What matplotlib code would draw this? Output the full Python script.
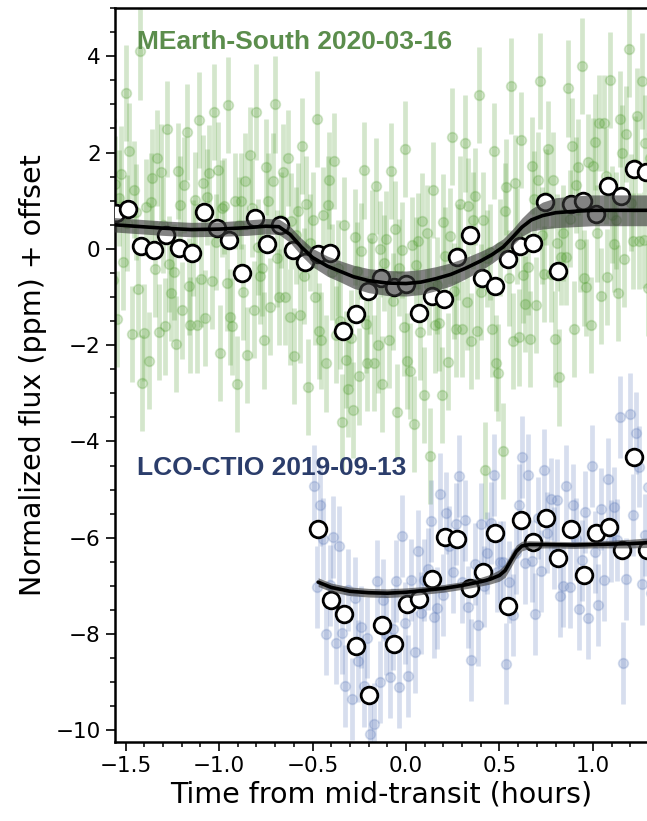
import matplotlib
matplotlib.use("Agg")
import matplotlib.pyplot as plt
from matplotlib.ticker import MultipleLocator

# ---------------- MEarth-South 2020-03-16 (offset +0) ----------------
mearth_t = [
    -1.579, -1.568, -1.559, -1.547, -1.536, -1.525,
    -1.511, -1.500, -1.491, -1.479, -1.468, -1.457,
    -1.444, -1.433, -1.424, -1.412, -1.401, -1.390,
    -1.376, -1.365, -1.356, -1.344, -1.333, -1.322,
    -1.309, -1.298, -1.289, -1.277, -1.266, -1.255,
    -1.241, -1.230, -1.221, -1.209, -1.198, -1.187,
    -1.173, -1.162, -1.153, -1.141, -1.130, -1.119,
    -1.106, -1.095, -1.086, -1.074, -1.063, -1.052,
    -1.038, -1.027, -1.018, -1.006, -0.995, -0.984,
    -0.971, -0.960, -0.951, -0.939, -0.928, -0.917,
    -0.903, -0.892, -0.883, -0.871, -0.860, -0.849,
    -0.835, -0.824, -0.815, -0.803, -0.792, -0.781,
    -0.768, -0.757, -0.748, -0.736, -0.725, -0.714,
    -0.700, -0.689, -0.680, -0.668, -0.657, -0.646,
    -0.633, -0.622, -0.613, -0.601, -0.590, -0.579,
    -0.565, -0.554, -0.545, -0.533, -0.522, -0.511,
    -0.497, -0.486, -0.477, -0.465, -0.454, -0.443,
    -0.430, -0.419, -0.410, -0.398, -0.387, -0.376,
    -0.362, -0.351, -0.342, -0.330, -0.319, -0.308,
    -0.295, -0.284, -0.275, -0.263, -0.252, -0.241,
    -0.227, -0.216, -0.207, -0.195, -0.184, -0.173,
    -0.159, -0.148, -0.139, -0.127, -0.116, -0.105,
    -0.092, -0.081, -0.072, -0.060, -0.049, -0.038,
    -0.024, -0.013, -0.004, 0.008, 0.019, 0.030,
    0.043, 0.054, 0.063, 0.075, 0.086, 0.097,
    0.111, 0.122, 0.131, 0.143, 0.154, 0.165,
    0.179, 0.190, 0.199, 0.211, 0.222, 0.233,
    0.246, 0.257, 0.266, 0.278, 0.289, 0.300,
    0.314, 0.325, 0.334, 0.346, 0.357, 0.368,
    0.381, 0.392, 0.401, 0.413, 0.424, 0.435,
    0.449, 0.460, 0.469, 0.481, 0.492, 0.503,
    0.517, 0.528, 0.537, 0.549, 0.560, 0.571,
    0.584, 0.595, 0.604, 0.616, 0.627, 0.638,
    0.652, 0.663, 0.672, 0.684, 0.695, 0.706,
    0.719, 0.730, 0.739, 0.751, 0.762, 0.773,
    0.787, 0.798, 0.807, 0.819, 0.830, 0.841,
    0.855, 0.866, 0.875, 0.887, 0.898, 0.909,
    0.922, 0.933, 0.942, 0.954, 0.965, 0.976,
    0.990, 1.001, 1.010, 1.022, 1.033, 1.044,
    1.057, 1.068, 1.077, 1.089, 1.100, 1.111,
    1.125, 1.136, 1.145, 1.157, 1.168, 1.179,
    1.193, 1.204, 1.213, 1.225, 1.236, 1.247,
    1.260, 1.271, 1.280, 1.292, 1.303, 1.314,
]
mearth_flux = [
    2.65, -0.65, 1.35, -1.45, 1.05, 1.55,
    -0.27, 3.23, 0.53, 2.03, -1.77, 1.23,
    0.76, -0.84, 4.10, -2.78, -1.74, 0.86,
    -2.32, 0.98, 1.48, -0.42, 1.88, -1.72,
    1.59, 0.49, -1.61, 2.49, -0.31, -0.91,
    -0.48, -1.98, 1.62, 0.92, -1.28, 1.32,
    2.42, -0.78, -1.58, 0.02, 1.02, -1.58,
    2.67, -0.63, 1.37, -1.43, 1.07, 1.57,
    -0.66, 2.84, 0.14, 1.64, -2.16, 0.84,
    0.89, -0.71, 2.99, -1.41, -1.61, 0.99,
    -2.80, 0.50, 1.00, -0.90, 1.40, -2.20,
    1.94, 0.84, -1.26, 2.84, 0.04, -0.56,
    -0.40, -1.90, 1.70, 1.00, -1.20, 1.40,
    3.00, -0.20, -1.00, 0.60, 1.60, -1.00,
    1.88, -1.42, 0.58, -2.22, 0.28, 0.78,
    -1.37, 2.13, -0.57, 0.93, -2.87, 0.13,
    0.60, -1.00, 2.70, -1.70, -1.90, 0.70,
    -2.38, 0.92, 1.42, -0.48, 1.82, -1.78,
    -0.40, -1.50, -3.60, 0.50, -2.30, -2.90,
    -1.85, -3.35, 0.25, -0.45, -2.65, -0.05,
    1.63, -1.57, -2.37, -0.77, 0.23, -2.37,
    1.30, -2.00, 0.00, -2.80, -0.30, 0.20,
    -1.89, 1.61, -1.09, 0.41, -3.39, -0.39,
    -0.03, -1.63, 2.07, -2.33, -2.53, 0.07,
    -3.63, -0.33, 0.17, -1.73, 0.57, -3.03,
    0.32, -0.78, -4.30, 1.22, -1.58, -0.76,
    -1.54, -3.04, 0.56, -0.14, -2.34, 0.26,
    2.33, -0.87, -1.67, -0.07, 0.93, -1.67,
    2.19, -1.11, 0.89, -1.91, 0.59, 1.09,
    -1.70, 3.20, -0.90, 0.60, -4.60, -0.20,
    -0.07, -1.67, 2.03, -2.37, -2.57, 0.03,
    -4.20, 0.79, 1.29, -0.61, 3.38, -1.91,
    1.36, 0.26, -1.84, 2.26, -0.54, -1.14,
    -0.37, -1.87, 1.73, 1.03, -1.17, 1.43,
    3.48, 0.28, -0.52, 1.08, 2.08, -0.52,
    1.43, -1.87, 0.13, -2.67, -0.17, 0.33,
    -0.17, 3.33, 0.63, 2.13, -1.67, 1.33,
    1.70, 0.10, 3.80, -0.60, -0.80, 1.80,
    -1.58, 1.72, 2.22, 0.32, 2.62, -0.98,
    2.61, 1.51, -0.59, 3.51, 0.71, 0.11,
    0.59, -0.91, 2.69, 1.99, -0.21, 2.39,
    4.16, 0.96, 0.16, 1.76, 2.76, 0.16,
    3.49, 0.19, 2.19, -0.81, 1.89, 2.39,
]
mearth_err = 1.0

mearth_bin_t = [
    -1.553, -1.485, -1.418, -1.350, -1.283, -1.215, -1.147, -1.080,
    -1.012, -0.945, -0.877, -0.809, -0.742, -0.674, -0.607, -0.539,
    -0.471, -0.404, -0.336, -0.269, -0.201, -0.133, -0.066, 0.002,
    0.069, 0.137, 0.205, 0.272, 0.340, 0.407, 0.475, 0.543,
    0.610, 0.678, 0.745, 0.813, 0.881, 0.948, 1.016, 1.083,
    1.151, 1.219, 1.286,
]
mearth_bin_flux = [
    0.75, 0.83, 0.06, -0.02, 0.29, 0.02, -0.08, 0.77,
    0.44, 0.19, -0.50, 0.64, 0.10, 0.50, -0.02, -0.27,
    -0.10, -0.08, -1.70, -1.35, -0.87, -0.60, -0.79, -0.73,
    -1.33, -0.98, -1.04, -0.17, 0.29, -0.60, -0.77, -0.21,
    0.06, 0.13, 0.98, -0.47, 0.93, 1.00, 0.72, 1.31,
    1.09, 1.66, 1.59,
]

mearth_model_t = [
    -1.56, -1.45, -1.30, -1.15, -1.00, -0.85, -0.75, -0.68, -0.62,
    -0.56, -0.50, -0.42, -0.35, -0.28, -0.20, -0.10, 0.00, 0.08,
    0.16, 0.24, 0.32, 0.40, 0.46, 0.52, 0.57, 0.62, 0.67,
    0.73, 0.80, 0.90, 1.00, 1.15, 1.30,
]
mearth_model = [
    0.50, 0.47, 0.43, 0.40, 0.41, 0.44, 0.47, 0.46, 0.30,
    0.04, -0.18, -0.36, -0.47, -0.58, -0.66, -0.71, -0.72, -0.69,
    -0.62, -0.53, -0.40, -0.25, -0.12, 0.04, 0.24, 0.45, 0.60,
    0.69, 0.75, 0.78, 0.80, 0.80, 0.80,
]
mearth_band = [
    0.15, 0.15, 0.15, 0.15, 0.15, 0.16, 0.16, 0.16, 0.17,
    0.18, 0.19, 0.21, 0.22, 0.24, 0.25, 0.26, 0.26, 0.26,
    0.25, 0.24, 0.22, 0.20, 0.18, 0.17, 0.17, 0.19, 0.23,
    0.28, 0.31, 0.32, 0.32, 0.32, 0.32,
]

# ---------------- LCO-CTIO 2019-09-13 (offset -6) ----------------
lco_t = [
    -0.494, -0.477, -0.461, -0.444,
    -0.426, -0.409, -0.393, -0.376,
    -0.359, -0.342, -0.326, -0.309,
    -0.291, -0.274, -0.258, -0.241,
    -0.223, -0.206, -0.190, -0.173,
    -0.156, -0.139, -0.123, -0.106,
    -0.088, -0.071, -0.055, -0.038,
    -0.021, -0.004, 0.012, 0.029,
    0.047, 0.064, 0.080, 0.097,
    0.115, 0.132, 0.148, 0.165,
    0.182, 0.199, 0.215, 0.232,
    0.250, 0.267, 0.283, 0.300,
    0.317, 0.334, 0.350, 0.367,
    0.385, 0.402, 0.418, 0.435,
    0.453, 0.470, 0.486, 0.503,
    0.520, 0.537, 0.553, 0.570,
    0.588, 0.605, 0.621, 0.638,
    0.655, 0.672, 0.688, 0.705,
    0.723, 0.740, 0.756, 0.773,
    0.790, 0.807, 0.823, 0.840,
    0.858, 0.875, 0.891, 0.908,
    0.926, 0.943, 0.959, 0.976,
    0.993, 1.010, 1.026, 1.043,
    1.061, 1.078, 1.094, 1.111,
    1.128, 1.145, 1.161, 1.178,
    1.196, 1.213, 1.229, 1.246,
    1.263, 1.280, 1.296, 1.313,
]
lco_flux = [
    -4.92, -7.02, -5.32, -6.02,
    -7.99, -6.99, -5.99, -8.19,
    -6.18, -7.98, -9.08, -7.08,
    -9.35, -7.25, -8.55, -7.85,
    -9.07, -8.07, -10.07, -9.87,
    -6.90, -9.00, -7.30, -8.00,
    -8.90, -7.90, -6.90, -9.10,
    -5.97, -7.77, -8.87, -6.87,
    -8.37, -6.27, -7.57, -6.87,
    -6.65, -5.65, -7.65, -7.45,
    -5.08, -7.18, -5.48, -6.18,
    -6.72, -5.72, -4.72, -6.92,
    -5.64, -7.44, -8.54, -6.54,
    -7.81, -5.71, -7.01, -6.31,
    -5.70, -4.70, -6.70, -6.50,
    -6.51, -8.61, -6.91, -7.61,
    -6.32, -5.32, -4.32, -6.52,
    -4.69, -6.49, -7.59, -5.59,
    -6.69, -4.59, -5.89, -5.19,
    -6.21, -5.21, -7.21, -7.01,
    -4.92, -7.02, -5.32, -6.02,
    -7.47, -6.47, -5.47, -7.67,
    -4.50, -6.30, -7.40, -5.40,
    -6.87, -4.77, -6.07, -5.37,
    -6.05, -3.50, -8.60, -6.85,
    -3.42, -5.52, -3.82, -4.52,
    -6.95, -5.95, -4.95, -7.15,
]
lco_err = 0.85

lco_bin_t = [
    -0.469, -0.401, -0.334, -0.266, -0.198, -0.131, -0.063, 0.004,
    0.072, 0.140, 0.207, 0.275, 0.342, 0.410, 0.478, 0.545,
    0.613, 0.680, 0.748, 0.815, 0.883, 0.951, 1.018, 1.086,
    1.153, 1.221, 1.288,
]
lco_bin_flux = [
    -5.82, -7.29, -7.58, -8.25, -9.27, -7.80, -8.20, -7.37,
    -7.27, -6.85, -5.98, -6.02, -7.04, -6.71, -5.90, -7.41,
    -5.62, -6.09, -5.59, -6.41, -5.82, -6.77, -5.90, -5.77,
    -6.25, -4.32, -6.25,
]

lco_model_t = [
    -0.47, -0.40, -0.30, -0.20, -0.10, 0.00, 0.10, 0.20, 0.30,
    0.40, 0.45, 0.50, 0.53, 0.56, 0.59, 0.62, 0.66, 0.75,
    0.90, 1.00, 1.10, 1.20, 1.30,
]
lco_model = [
    -6.92, -7.03, -7.11, -7.14, -7.15, -7.13, -7.09, -7.05, -6.99,
    -6.91, -6.86, -6.78, -6.68, -6.48, -6.28, -6.17, -6.14, -6.14,
    -6.15, -6.14, -6.13, -6.12, -6.10,
]
lco_band = [
    0.09, 0.09, 0.09, 0.09, 0.09, 0.09, 0.08, 0.08, 0.08,
    0.09, 0.10, 0.12, 0.14, 0.14, 0.13, 0.10, 0.08, 0.07,
    0.07, 0.07, 0.08, 0.09, 0.10,
]

labels = ["MEarth-South 2020-03-16", "LCO-CTIO 2019-09-13"]
label_xy = [(-1.44, 4.30), (-1.44, -4.55)]
label_colors = ["#5b8d4c", "#2b3d6b"]

raw_colors = ["#4c9a2a", "#5a78b8"]

fig = plt.figure(figsize=(6.47, 8.21), dpi=100)
ax = fig.add_axes([0.177, 0.0962, 0.823, 0.894])

datasets = [
    (mearth_t, mearth_flux, mearth_err, mearth_bin_t, mearth_bin_flux,
     mearth_model_t, mearth_model, mearth_band, raw_colors[0]),
    (lco_t, lco_flux, lco_err, lco_bin_t, lco_bin_flux,
     lco_model_t, lco_model, lco_band, raw_colors[1]),
]

for (t, f, e, bt, bf, mt, mf, mb, c) in datasets:
    ax.errorbar(t, f, yerr=e, fmt="o", color=c, alpha=0.24, ms=7,
                mew=1.2, elinewidth=3.4, capsize=0, zorder=1)

for (t, f, e, bt, bf, mt, mf, mb, c) in datasets:
    ax.plot(bt, bf, "o", ms=12, mfc="white", mec="black", mew=2.0,
            zorder=3)
    lo = [m - b for m, b in zip(mf, mb)]
    hi = [m + b for m, b in zip(mf, mb)]
    ax.fill_between(mt, lo, hi, color="0.22", alpha=0.62, lw=0,
                    zorder=4)
    ax.plot(mt, mf, "-", color="black", lw=2.6, zorder=5,
            solid_capstyle="round", solid_joinstyle="round")

for txt, (x, y), col in zip(labels, label_xy, label_colors):
    ax.text(x, y, txt, color=col, fontsize=19, fontweight="bold",
            family="Liberation Sans", ha="left", va="center", zorder=6)

ax.set_xlim(-1.559, 1.289)
ax.set_ylim(-10.24, 5.0)

ax.xaxis.set_major_locator(MultipleLocator(0.5))
ax.xaxis.set_minor_locator(MultipleLocator(0.1))
ax.yaxis.set_major_locator(MultipleLocator(2))
ax.yaxis.set_minor_locator(MultipleLocator(0.5))

ax.tick_params(which="major", direction="out", length=6.5, width=1.2,
               labelsize=15.5)
ax.tick_params(which="minor", direction="out", length=3.5, width=1.1)
ax.tick_params(top=False, right=False)

for side in ["left", "bottom", "top"]:
    ax.spines[side].set_linewidth(1.8)
ax.spines["right"].set_visible(False)

ax.set_xlabel("Time from mid-transit (hours)", fontsize=20.5, labelpad=3)
ax.set_ylabel("Normalized flux (ppm) + offset", fontsize=20.5, labelpad=6)

fig.savefig("out.png", dpi=100)
